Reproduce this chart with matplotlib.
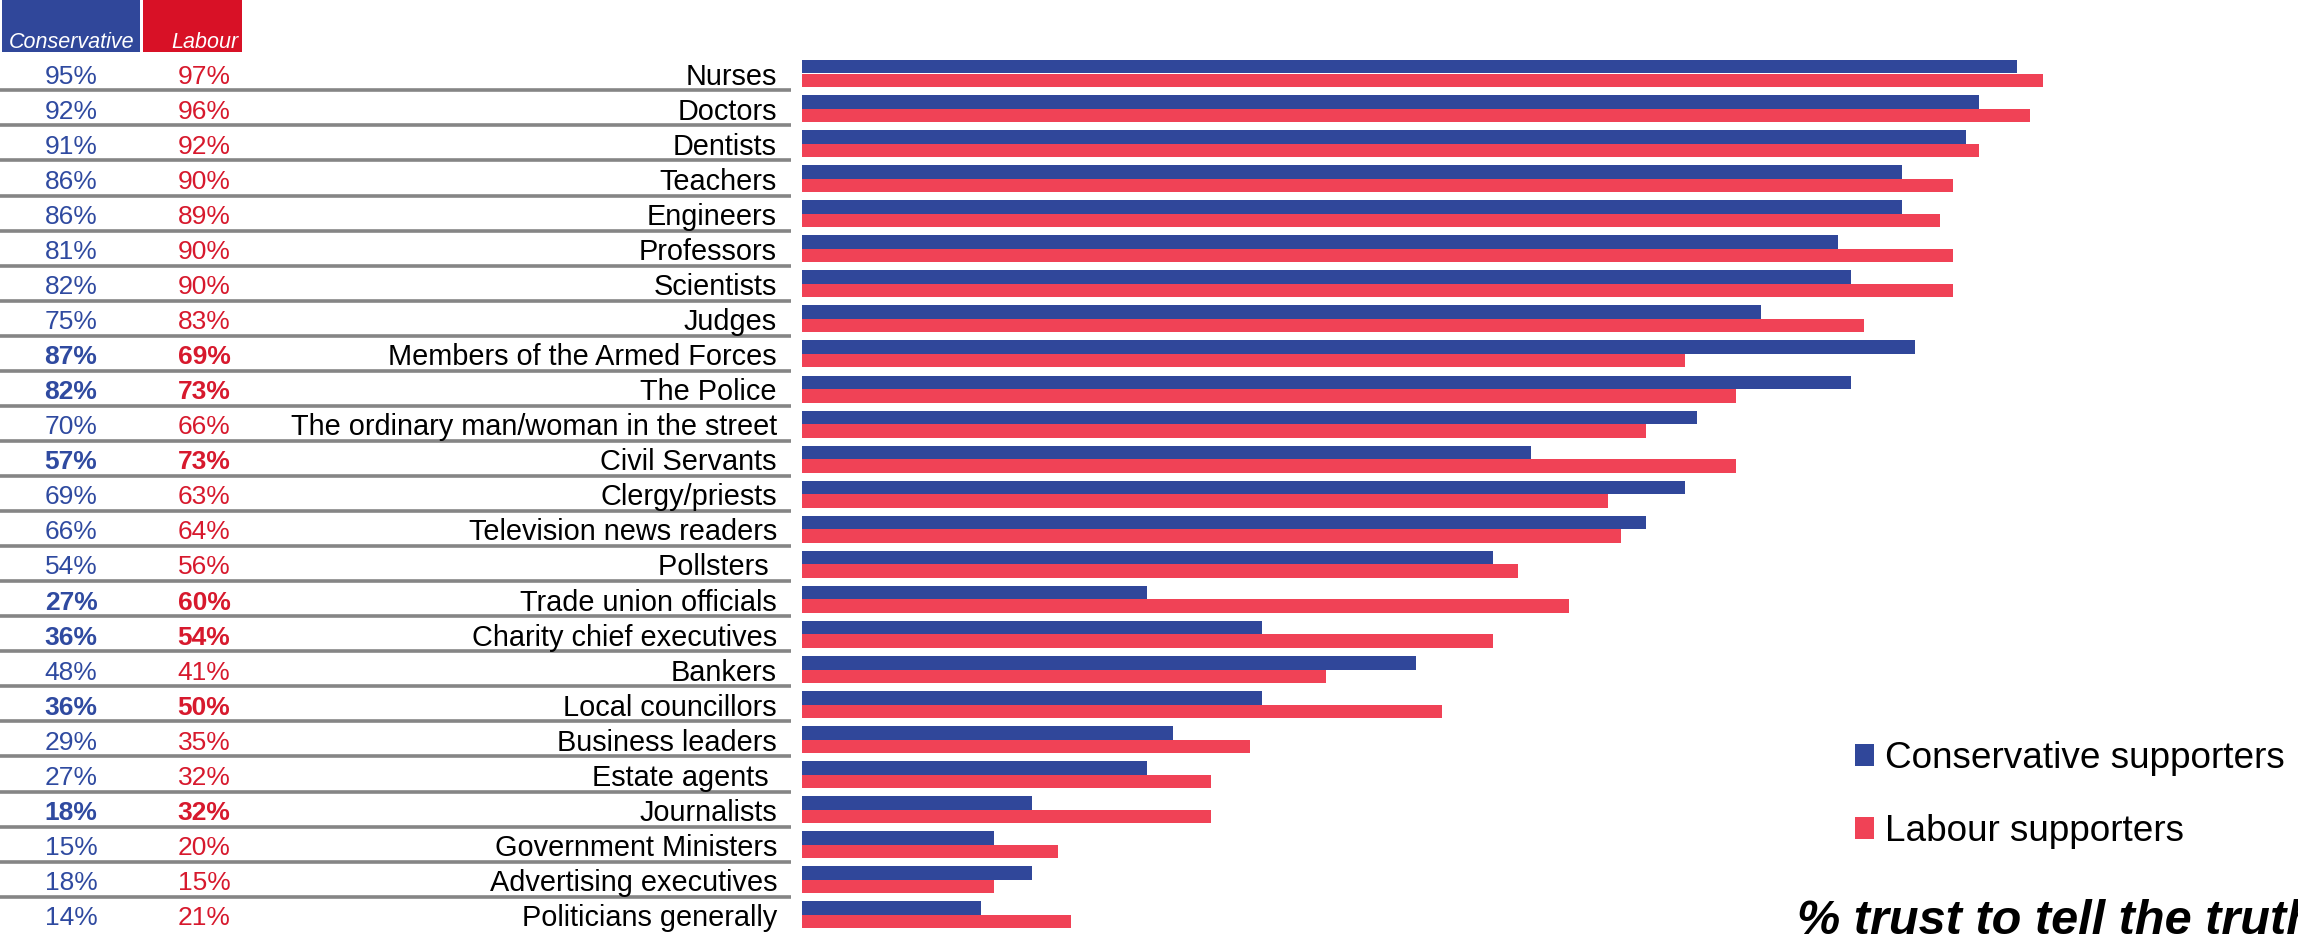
import matplotlib
matplotlib.use("Agg")
import matplotlib.pyplot as plt
from matplotlib.patches import Rectangle, Patch
from matplotlib.transforms import blended_transform_factory

plt.rcParams['font.family'] = ['Liberation Sans', 'DejaVu Sans']

categories = ["Nurses", "Doctors", "Dentists", "Teachers", "Engineers", "Professors",
              "Scientists", "Judges", "Members of the Armed Forces", "The Police",
              "The ordinary man/woman in the street", "Civil Servants", "Clergy/priests",
              "Television news readers", "Pollsters ", "Trade union officials",
              "Charity chief executives", "Bankers", "Local councillors", "Business leaders",
              "Estate agents ", "Journalists", "Government Ministers",
              "Advertising executives", "Politicians generally"]
conservative = [95, 92, 91, 86, 86, 81, 82, 75, 87, 82, 70, 57, 69, 66, 54, 27, 36, 48,
                36, 29, 27, 18, 15, 18, 14]
labour = [97, 96, 92, 90, 89, 90, 90, 83, 69, 73, 66, 73, 63, 64, 56, 60, 54, 41,
          50, 35, 32, 32, 20, 15, 21]
bold_rows = ["Members of the Armed Forces", "The Police", "Civil Servants",
             "Trade union officials", "Charity chief executives", "Local councillors",
             "Journalists"]
series_names = ["Conservative supporters", "Labour supporters"]
header_labels = ["Conservative", "Labour"]
title = "% trust to tell the truth"

W, H = 2298, 942
BLUE = "#30479a"
RED_BAR = "#f04256"
RED_HDR = "#d81126"
BLUE_TXT = "#2f4aa0"
RED_TXT = "#d7192d"

fig = plt.figure(figsize=(W / 100, H / 100), dpi=100)
fig.patch.set_facecolor("white")

n = len(categories)
row_h = 35.06
y0 = 73.5
top_px = y0 - row_h / 2
bot_px = y0 + row_h * (n - 1) + row_h / 2
x_left = 802
x_100 = 2081
ax = fig.add_axes([x_left / W, 1 - bot_px / H, (x_100 - x_left) / W, (bot_px - top_px) / H])
ax.set_xlim(0, 100)
ax.set_ylim(n - 0.5, -0.5)
ax.axis("off")

idx = list(range(n))
bh = 0.385
b1 = ax.barh([i - bh / 2 for i in idx], conservative, height=bh, color=BLUE, label=series_names[0])
b2 = ax.barh([i + bh / 2 for i in idx], labour, height=bh, color=RED_BAR, label=series_names[1])

tr = blended_transform_factory(fig.transFigure, ax.transData)
dy = 0.09
for i, cat in enumerate(categories):
    bold = cat in bold_rows
    fw = "bold" if bold else "normal"
    ax.text(71 / W, i + dy, f"{conservative[i]}%", transform=tr, ha="center", va="center",
            fontsize=19, color=BLUE_TXT, fontweight=fw)
    ax.text(204 / W, i + dy, f"{labour[i]}%", transform=tr, ha="center", va="center",
            fontsize=19, color=RED_TXT, fontweight=fw)
    ax.text(777 / W, i + dy, cat, transform=tr, ha="right", va="center", fontsize=20.8,
            color="black")
    if i < n - 1:
        ax.plot([0, 791 / W], [i + 0.48, i + 0.48], transform=tr, color="#858585",
                lw=2.6, clip_on=False, solid_capstyle="butt")

# header boxes
fig.patches.append(Rectangle((2 / W, 1 - 52 / H), 138 / W, 52 / H, transform=fig.transFigure,
                             facecolor=BLUE, edgecolor="none"))
fig.patches.append(Rectangle((143 / W, 1 - 52 / H), 99 / W, 52 / H, transform=fig.transFigure,
                             facecolor=RED_HDR, edgecolor="none"))
fig.text(72 / W, 1 - 42 / H, header_labels[0], ha="center", va="center", fontsize=15.5,
         style="italic", color="white")
fig.text(205 / W, 1 - 42 / H, header_labels[1], ha="center", va="center", fontsize=15.5,
         style="italic", color="white")

leg = fig.legend(handles=[Patch(facecolor=BLUE), Patch(facecolor=RED_BAR)], labels=series_names,
                 loc="upper left", bbox_to_anchor=(1855 / W, 1 - 741 / H), frameon=False,
                 fontsize=26.6, handlelength=0.52, handleheight=0.52, handletextpad=0.3,
                 labelspacing=1.03, borderpad=0, borderaxespad=0)

fig.text(1797 / W, 1 - 921 / H, title, ha="left", va="center", fontsize=35,
         fontweight="bold", style="italic", color="black")

fig.savefig("out.png", dpi=100)
